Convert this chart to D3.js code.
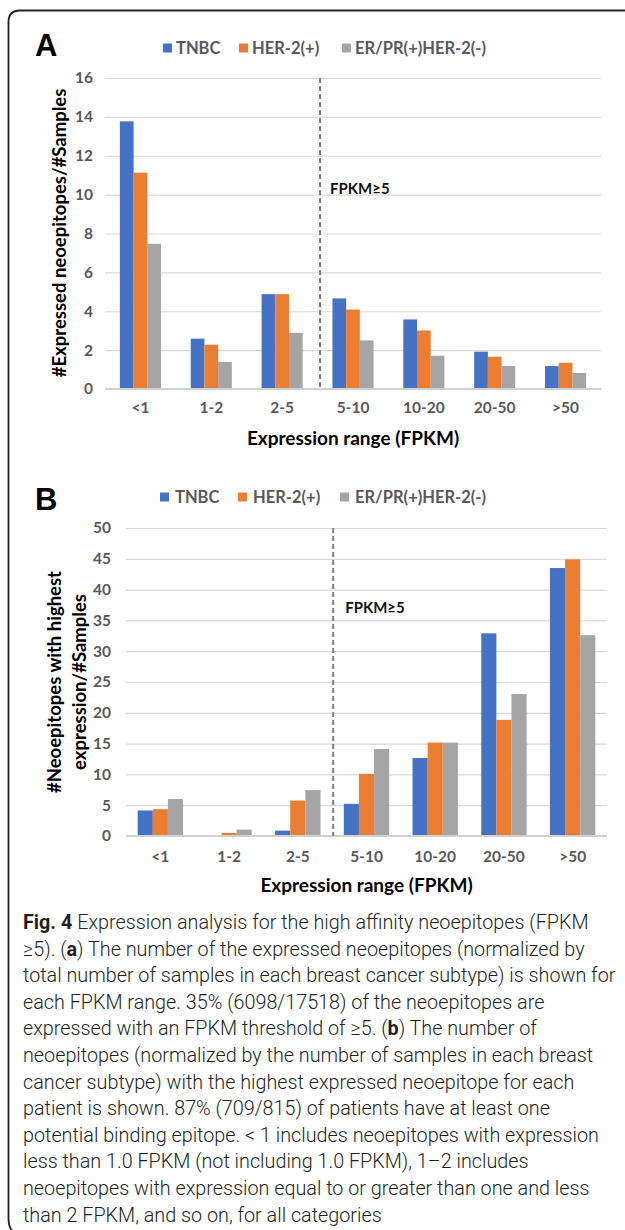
<!DOCTYPE html>
<html>
<head>
<meta charset="utf-8">
<script src="https://cdn.jsdelivr.net/npm/d3@7"></script>
<style>
  html, body { margin: 0; padding: 0; background: #fff; }
  svg { display: block; }
</style>
</head>
<body>
<svg id="chart" width="625" height="1230"></svg>
<script>
// ---------- DATA ----------
const categories = ["<1", "1-2", "2-5", "5-10", "10-20", "20-50", ">50"];
const seriesNames = ["TNBC", "HER-2(+)", "ER/PR(+)HER-2(-)"];
const seriesColors = ["#4472C4", "#ED7D31", "#A5A5A5"];

const panelA_TNBC = [13.77, 2.59, 4.88, 4.66, 3.58, 1.92, 1.18];
const panelA_HER2 = [11.13, 2.28, 4.88, 4.09, 3.01, 1.66, 1.35];
const panelA_ERPR = [7.47, 1.39, 2.89, 2.50, 1.71, 1.18, 0.82];

const panelB_TNBC = [4.15, 0, 0.87, 5.22, 12.66, 32.9, 43.5];
const panelB_HER2 = [4.35, 0.49, 5.76, 10.1, 15.16, 18.86, 44.9];
const panelB_ERPR = [6.0, 1.03, 7.45, 14.13, 15.16, 23.04, 32.6];

const ticksA = [0, 2, 4, 6, 8, 10, 12, 14, 16];
const ticksB = [0, 5, 10, 15, 20, 25, 30, 35, 40, 45, 50];

const thresholdLabel = "FPKM≥5";
const xTitle = "Expression range (FPKM)";
const yTitleA = ["#Expressed neoepitopes/#Samples"];
const yTitleB = ["#Neoepitopes with highest", "expression/#Samples"];

const captionLines = [
  [["Fig. 4", true], [" Expression analysis for the high affinity neoepitopes (FPKM", false]],
  [["≥5). (", false], ["a", true], [") The number of the expressed neoepitopes (normalized by", false]],
  [["total number of samples in each breast cancer subtype) is shown for", false]],
  [["each FPKM range. 35% (6098/17518) of the neoepitopes are", false]],
  [["expressed with an FPKM threshold of ≥5. (", false], ["b", true], [") The number of", false]],
  [["neoepitopes (normalized by the number of samples in each breast", false]],
  [["cancer subtype) with the highest expressed neoepitope for each", false]],
  [["patient is shown. 87% (709/815) of patients have at least one", false]],
  [["potential binding epitope. < 1 includes neoepitopes with expression", false]],
  [["less than 1.0 FPKM (not including 1.0 FPKM), 1–2 includes", false]],
  [["neoepitopes with expression equal to or greater than one and less", false]],
  [["than 2 FPKM, and so on, for all categories", false]]
];

// ---------- DRAW ----------
const svg = d3.select("#chart");
const chartFont = "Lato, 'Open Sans', sans-serif";

// frame
svg.append("path")
  .attr("d", "M640,10.5 L20,10.5 Q8.5,10.5 8.5,22 L8.5,1218 Q8.5,1229 14,1232")
  .attr("fill", "none").attr("stroke", "#222").attr("stroke-width", 1.8);

function panel(cfg) {
  const g = svg.append("g");
  const x0 = d3.scaleBand().domain(categories).range([cfg.left, cfg.right]).padding(0);
  const gw = x0.step() * cfg.groupFrac;
  const x1 = d3.scaleBand().domain(seriesNames).range([-gw / 2, gw / 2]);
  const y = d3.scaleLinear().domain([0, cfg.max]).range([cfg.bottom, cfg.top]);

  // gridlines
  g.append("g").attr("transform", `translate(${cfg.left},0)`)
    .call(d3.axisLeft(y).tickValues(cfg.ticks.slice(1)).tickSize(-(cfg.right - cfg.left)).tickFormat(""))
    .call(a => a.select(".domain").remove())
    .call(a => a.selectAll("line").attr("stroke", "#d9d9d9").attr("stroke-width", 1.2));

  // y labels
  g.append("g").attr("transform", `translate(${cfg.left},0)`)
    .call(d3.axisLeft(y).tickValues(cfg.ticks).tickSize(0).tickPadding(cfg.tickPad))
    .call(a => a.select(".domain").remove())
    .call(a => a.selectAll("text").attr("font-family", chartFont).attr("font-weight", 700)
      .attr("font-size", 15.5).attr("fill", "#595959"));

  // bars
  const series = cfg.values.map((vals, i) => ({ name: seriesNames[i], color: seriesColors[i], vals }));
  series.forEach(s => {
    g.append("g").selectAll("rect").data(categories.map((c, j) => ({ c, v: s.vals[j] })))
      .join("rect")
      .attr("x", d => x0(d.c) + x0.bandwidth() / 2 + x1(s.name))
      .attr("width", x1.bandwidth())
      .attr("y", d => y(d.v))
      .attr("height", d => y(0) - y(d.v))
      .attr("fill", s.color);
  });

  // x axis
  g.append("g").attr("transform", `translate(0,${cfg.bottom})`)
    .call(d3.axisBottom(x0).tickSize(0).tickPadding(cfg.xPad))
    .call(a => a.select(".domain").attr("stroke", "#d0d0d0").attr("stroke-width", 2)
      .attr("d", `M${cfg.left},0H${cfg.right}`))
    .call(a => a.selectAll("text").attr("font-family", chartFont).attr("font-weight", 700)
      .attr("font-size", 15.5).attr("fill", "#595959"));

  // threshold dashed line between 2-5 and 5-10
  const xb = x0("5-10") + cfg.dashOff;
  g.append("line").attr("x1", xb).attr("x2", xb).attr("y1", cfg.top).attr("y2", cfg.bottom)
    .attr("stroke", "#7f7f7f").attr("stroke-width", 2).attr("stroke-dasharray", "5,3");
  g.append("text").attr("x", xb + cfg.fpkmDx).attr("y", y(cfg.fpkmVal)).attr("dy", "0.35em")
    .attr("font-family", chartFont).attr("font-weight", 700).attr("font-size", 15)
    .attr("fill", "#111").text(thresholdLabel);

  // panel letter
  g.append("text").attr("x", 35).attr("y", cfg.letterY).attr("font-family", "'Liberation Sans', Arial, sans-serif")
    .attr("font-weight", 700).attr("font-size", 31).attr("fill", "#000").text(cfg.letter);

  // legend
  const legX = cfg.legendX;
  series.forEach((s, i) => {
    const lx = legX[i];
    g.append("rect").attr("x", lx).attr("y", cfg.legendY - 4.5).attr("width", 9).attr("height", 9).attr("fill", s.color);
    g.append("text").attr("x", lx + cfg.legendGap).attr("y", cfg.legendY).attr("dy", "0.35em")
      .attr("font-family", chartFont).attr("font-weight", 700).attr("font-size", 16.5)
      .attr("fill", "#595959").text(s.name);
  });

  // axis titles
  g.append("text").attr("x", (cfg.left + cfg.right) / 2).attr("y", cfg.xTitleY).attr("dy", "0.35em")
    .attr("text-anchor", "middle").attr("font-family", chartFont).attr("font-weight", 700)
    .attr("font-size", 19).attr("fill", "#000").text(xTitle);

  cfg.yTitle.forEach((t, i) => {
    const cx = cfg.yTitleX[i];
    g.append("text").attr("transform", `translate(${cx},${cfg.yTitleCY}) rotate(-90)`)
      .attr("text-anchor", "middle").attr("dy", "0.35em")
      .attr("font-family", chartFont).attr("font-weight", 700)
      .attr("font-size", 18.5).attr("fill", "#000").text(t);
  });
}

panel({
  letter: "A", letterY: 56,
  left: 105, right: 601, top: 78, bottom: 389, max: 16, ticks: ticksA, tickPad: 12,
  groupFrac: 0.58, values: [panelA_TNBC, panelA_HER2, panelA_ERPR],
  xPad: 13, dashOff: 2.5, fpkmDx: 10, fpkmVal: 10.3,
  legendX: [163, 239, 342], legendY: 48, legendGap: 13,
  xTitleY: 438, yTitle: yTitleA, yTitleX: [60], yTitleCY: 233
});

panel({
  letter: "B", letterY: 510,
  left: 126, right: 607, top: 528, bottom: 836, max: 50, ticks: ticksB, tickPad: 15,
  groupFrac: 0.66, values: [panelB_TNBC, panelB_HER2, panelB_ERPR],
  xPad: 15, dashOff: 1, fpkmDx: 12, fpkmVal: 37.1,
  legendX: [160, 238, 340], legendY: 497, legendGap: 15,
  xTitleY: 885, yTitle: yTitleB, yTitleX: [55, 80], yTitleCY: 682
});

// caption
const capFont = "Roboto, 'Open Sans', sans-serif";
const cap = svg.append("g");
const capTexts = captionLines.map((line, i) => {
  const t = cap.append("text").attr("x", 23).attr("y", 922 + i * 26.6).attr("dy", "0.35em")
    .attr("font-family", capFont).attr("font-size", 20).attr("fill", "#231f20");
  line.forEach(([s, b]) => t.append("tspan").attr("font-weight", b ? 700 : 300).text(s));
  return t;
});
const longest = capTexts[2].node().getComputedTextLength();
const fs = 20 * 593 / longest;
capTexts.forEach(t => t.attr("font-size", fs));
</script>
</body>
</html>
